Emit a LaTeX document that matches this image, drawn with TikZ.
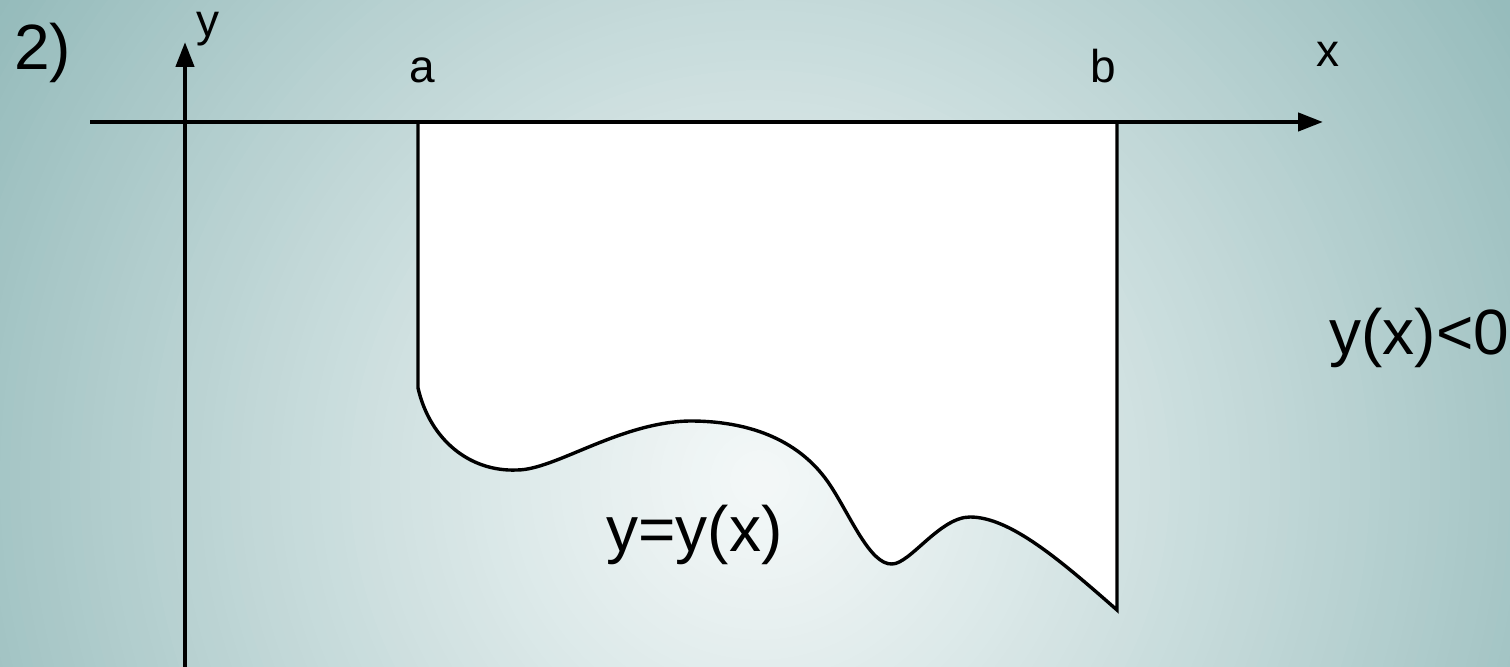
\documentclass[tikz,border=0pt]{standalone}
\usepackage{fontspec}
\setmainfont{Liberation Sans}
\usetikzlibrary{arrows.meta}
\definecolor{bgA}{RGB}{244,248,248}
\definecolor{bgE}{RGB}{149,187,187}
\begin{document}
\begin{tikzpicture}[x=0.5pt,y=-0.5pt,
  axis/.style={line width=2.2pt,-{Triangle[length=12.5pt,width=9pt]}},
  big/.style={inner sep=0pt,anchor=base west,font=\fontsize{32pt}{32pt}\selectfont},
  small/.style={inner sep=0pt,anchor=base west,font=\fontsize{23pt}{23pt}\selectfont}]
\useasboundingbox (0,0) rectangle (1510,667);
\begin{scope}
\clip (0,0) rectangle (1510,667);
\foreach \i in {0,...,90} {
  \pgfmathsetmacro\rr{920-10*\i}
  \pgfmathsetmacro\tt{min(100,100*(\rr/900)^1.12)}
  \fill[bgE!\tt!bgA] (760,480) circle[radius=\rr];
}
\end{scope}
% region under the x-axis
\path[fill=white,draw=black,line width=1.7pt,line join=miter]
  (418,122) -- (418,388)
  .. controls (430,440) and (470,472) .. (517,470)
  .. controls (555,470) and (620,422) .. (690,421)
  .. controls (760,421) and (805,447) .. (830,485)
  .. controls (850,515) and (870,565) .. (892,564)
  .. controls (910,564) and (940,517) .. (970,517)
  .. controls (1010,517) and (1060,560) .. (1117,610)
  -- (1117,122) -- cycle;
% axes
\coordinate (xs) at (90,122);
\coordinate (xe) at (1323,122);
\coordinate (ys) at (185,667);
\coordinate (ye) at (185,42);
\draw[axis] (xs) -- (xe);
\draw[axis] (ys) -- (ye);
% labels
\node[big] (n2) at (14,70) {2)};
\node[small] (ylab) at (196,37) {y};
\node[small] (alab) at (409,83) {a};
\node[small] (blab) at (1090,83) {b};
\node[small] (xlab) at (1316,67) {x};
\node[big] (ylt) at (1329,355) {y(x)<0};
\node[big] (yeq) at (606,552) {y=y(x)};
\end{tikzpicture}
\end{document}
